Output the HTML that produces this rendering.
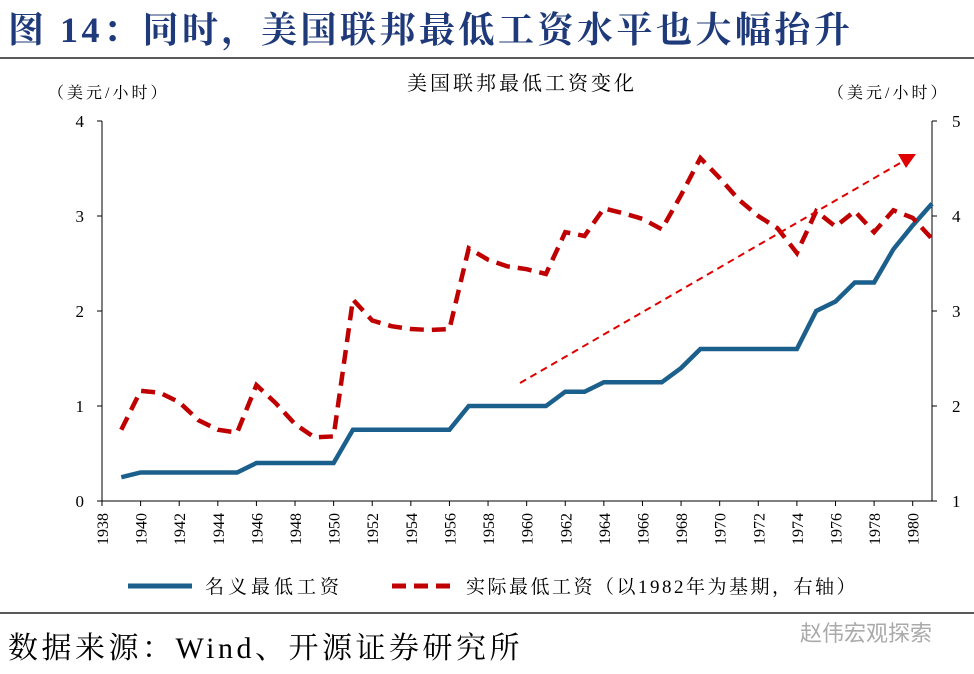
<!DOCTYPE html>
<html><head><meta charset="utf-8">
<style>
body{margin:0;width:974px;height:674px;background:#fff;overflow:hidden;font-family:"Liberation Serif","Noto Serif CJK SC",serif;}
#title{position:absolute;left:8px;top:2px;font-size:36px;letter-spacing:3.5px;font-weight:bold;color:#1f3a7a;white-space:nowrap;}
#src{position:absolute;left:8px;top:623px;font-size:30px;letter-spacing:3.5px;color:#000;white-space:nowrap;}
#wm{position:absolute;left:800px;top:616px;font-size:22px;color:#aaa;font-family:"Liberation Sans","Noto Sans CJK SC",sans-serif;}
</style></head><body>
<div id="title">图 14：同时，美国联邦最低工资水平也大幅抬升</div>
<svg id="chart" width="974" height="674" style="position:absolute;left:0;top:0" font-family="Liberation Serif, Noto Serif CJK SC, serif">
<line x1="0" y1="58" x2="974" y2="58" stroke="#222" stroke-width="1.5"/>
<line x1="0" y1="613" x2="974" y2="613" stroke="#222" stroke-width="1.5"/>
<text x="522" y="90" text-anchor="middle" font-size="20" letter-spacing="3">美国联邦最低工资变化</text>
<text x="48" y="98" font-size="16" letter-spacing="3">（美元/小时）</text>
<text x="828" y="98" font-size="16" letter-spacing="3">（美元/小时）</text>
<g id="axes"></g>
<g id="marks"></g>
<g>
<line x1="128" y1="586" x2="192" y2="586" stroke="#1b5f8c" stroke-width="5"/>
<text x="205" y="593" font-size="19" letter-spacing="4">名义最低工资</text>
<line x1="392" y1="586" x2="456" y2="586" stroke="#c00000" stroke-width="5" stroke-dasharray="14,8"/>
<text x="466" y="593" font-size="19" letter-spacing="2.5">实际最低工资（以1982年为基期，右轴）</text>
</g>
</svg>
<div id="src">数据来源：Wind、开源证券研究所</div>
<div id="wm">赵伟宏观探索</div>
<script>
const years=[1939,1940,1941,1942,1943,1944,1945,1946,1947,1948,1949,1950,1951,1952,1953,1954,1955,1956,1957,1958,1959,1960,1961,1962,1963,1964,1965,1966,1967,1968,1969,1970,1971,1972,1973,1974,1975,1976,1977,1978,1979,1980,1981];
const nominal=[0.25,0.30,0.30,0.30,0.30,0.30,0.30,0.40,0.40,0.40,0.40,0.40,0.75,0.75,0.75,0.75,0.75,0.75,1.00,1.00,1.00,1.00,1.00,1.15,1.15,1.25,1.25,1.25,1.25,1.40,1.60,1.60,1.60,1.60,1.60,1.60,2.00,2.10,2.30,2.30,2.65,2.90,3.13];
const real=[1.75,2.16,2.14,2.04,1.85,1.75,1.72,2.22,2.03,1.81,1.67,1.68,3.12,2.90,2.84,2.81,2.80,2.81,3.66,3.54,3.47,3.44,3.39,3.83,3.79,4.08,4.03,3.97,3.86,4.22,4.61,4.40,4.17,4.00,3.87,3.61,4.05,3.89,4.05,3.83,4.06,3.98,3.76];
const leftTicks=[0,1,2,3,4];
const rightTicks=[1,2,3,4,5];
const xTicks=[1938,1940,1942,1944,1946,1948,1950,1952,1954,1956,1958,1960,1962,1964,1966,1968,1970,1972,1974,1976,1978,1980];
const NS="http://www.w3.org/2000/svg";
const X0=102,X1=932,Y0=501,Y1=121;
const x=y=>X0+(y-1938)*(X1-X0)/43;
const yl=v=>Y0-(v-0)*(Y0-Y1)/4;
const yr=v=>Y0-(v-1)*(Y0-Y1)/4;
function mk(tag,attrs,parent,txt){const e=document.createElementNS(NS,tag);for(const k in attrs)e.setAttribute(k,attrs[k]);if(txt!==undefined)e.textContent=txt;parent.appendChild(e);return e;}
const ax=document.getElementById('axes'),mg=document.getElementById('marks');
let e;
e=mk('line',{x1:X0,y1:Y1,x2:X0,y2:Y0,stroke:'#000'},ax);


e=mk('line',{x1:X1,y1:Y1,x2:X1,y2:Y0,stroke:'#000'},ax);


e=mk('line',{x1:X0,y1:Y0,x2:X1,y2:Y0,stroke:'#000'},ax);


leftTicks.forEach(v=>{mk('line',{x1:X0-5,x2:X0,y1:yl(v),y2:yl(v),stroke:'#000'},ax);
e=mk('text',{x:X0-18,y:yl(v)+6,'text-anchor':'end','font-size':17},ax,v);

});
rightTicks.forEach(v=>{mk('line',{x1:X1,x2:X1+5,y1:yr(v),y2:yr(v),stroke:'#000'},ax);
e=mk('text',{x:X1+20,y:yr(v)+6,'text-anchor':'start','font-size':17},ax,v);

});
xTicks.forEach(v=>{mk('line',{x1:x(v),x2:x(v),y1:Y0,y2:Y0+5,stroke:'#000'},ax);
e=mk('text',{transform:`translate(${x(v)+6},${Y0+44}) rotate(-90)`,'font-size':16},ax,v);

});
e=mk('polyline',{points:years.map((y,i)=>x(y)+','+yl(nominal[i])).join(' '),fill:'none',stroke:'#1b5f8c','stroke-width':4.5},mg);


e=mk('polyline',{points:years.map((y,i)=>x(y)+','+yr(real[i])).join(' '),fill:'none',stroke:'#c00000','stroke-width':4.5,'stroke-dasharray':'14,8'},mg);


e=mk('line',{x1:520,y1:383,x2:902,y2:162,stroke:'#e00000','stroke-width':2,'stroke-dasharray':'7,5'},mg);


e=mk('polygon',{points:'916,154 898,154 906,168',fill:'#e00000'},mg);


</script>
</body></html>
